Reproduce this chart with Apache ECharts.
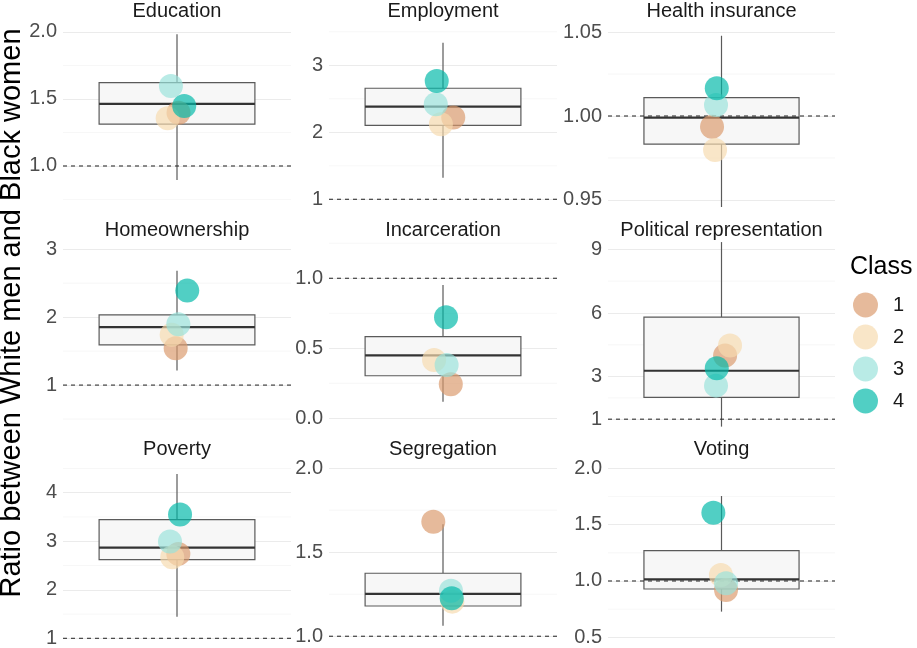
<!DOCTYPE html>
<html lang="en" style="height: 100%">

<head>
  <meta charset="UTF-8">
  <title>Ratio between White men and Black women</title>
  <script src="https://cdn.jsdelivr.net/npm/echarts@6.0.0/dist/echarts.min.js"></script>
</head>

<body style="height: 100%; margin: 0">
  <div id="container" style="width: 917px; height: 648px"></div>

  <script>
    var facets = ['Education', 'Employment', 'Health insurance', 'Homeownership', 'Incarceration',
      'Political representation', 'Poverty', 'Segregation', 'Voting'];
    var classNames = ['1', '2', '3', '4'];

    // per facet: [lower whisker, Q1, median, Q3, upper whisker]
    var boxStats = [
      [0.896, 1.313, 1.463, 1.622, 1.983],
      [1.322, 2.104, 2.382, 2.657, 3.337],
      [0.9458, 0.9833, 0.999, 1.0109, 1.0478],
      [1.215, 1.593, 1.853, 2.034, 2.685],
      [0.119, 0.304, 0.450, 0.583, 0.952],
      [0.65, 2.03, 3.28, 5.81, 9.34],
      [1.445, 2.623, 2.870, 3.447, 4.385],
      [1.063, 1.180, 1.252, 1.375, 1.667],
      [0.728, 0.929, 1.015, 1.269, 1.754]
    ];

    // class ratios, one value per facet
    var class1 = [1.398, 2.219, 0.9936, 1.544, 0.243, 4.00, 2.74, 1.682, 0.92];
    var class2 = [1.356, 2.119, 0.9798, 1.740, 0.416, 4.47, 2.67, 1.206, 1.053];
    var class3 = [1.597, 2.418, 1.0065, 1.897, 0.381, 2.58, 2.994, 1.271, 0.98];
    var class4 = [1.448, 2.766, 1.0165, 2.391, 0.721, 3.40, 3.551, 1.226, 1.606];
    var classValues = [class1, class2, class3, class4];

    // horizontal jitter of each point (x scale 0.4 - 1.6, box centred at 1)
    var jitter1 = [1.008, 1.054, 0.950, 0.993, 1.041, 1.019, 1.007, 0.949, 1.024];
    var jitter2 = [0.951, 0.989, 0.966, 0.972, 0.953, 1.045, 0.975, 1.049, 0.997];
    var jitter3 = [0.968, 0.962, 0.971, 1.007, 1.019, 0.971, 0.963, 1.042, 1.024];
    var jitter4 = [1.038, 0.967, 0.975, 1.054, 1.016, 0.975, 1.016, 1.046, 0.957];
    var jitters = [jitter1, jitter2, jitter3, jitter4];

    var yTicks = [[1, 1.5, 2], [1, 2, 3], [0.95, 1, 1.05], [1, 2, 3], [0, 0.5, 1],
      [1, 3, 6, 9], [1, 2, 3, 4], [1, 1.5, 2], [0.5, 1, 1.5, 2]];
    var yTickLabels = [['1.0', '1.5', '2.0'], ['1', '2', '3'], ['0.95', '1.00', '1.05'], ['1', '2', '3'],
      ['0.0', '0.5', '1.0'], ['1', '3', '6', '9'], ['1', '2', '3', '4'], ['1.0', '1.5', '2.0'],
      ['0.5', '1.0', '1.5', '2.0']];
    var yMinor = [[0.75, 1.25, 1.75], [1.5, 2.5, 3.5], [0.975, 1.025], [0.5, 1.5, 2.5], [0.25, 0.75, 1.25],
      [2, 4.5, 7.5], [1.5, 2.5, 3.5, 4.5], [1.25, 1.75], [0.75, 1.25, 1.75]];
    var yLimits = [[0.679, 2.067], [0.855, 3.631], [0.9446, 1.0554], [0.368, 3.107], [-0.069, 1.259],
      [0.585, 9.344], [0.821, 4.654], [0.936, 2.043], [0.414, 2.065]];
    var refValue = 1; // parity line

    // layout
    var colLeft = [63, 329, 608], colWidth = [228, 228, 227];
    var rowTop = [23, 242, 461], panelHeight = 186;
    var BOX_HALF = 0.41;
    var FONT = '"Liberation Sans", Arial, sans-serif';
    var classColors = ['rgba(219,154,108,0.85)', 'rgba(246,218,175,0.85)',
      'rgba(153,226,218,0.85)', 'rgba(0,185,168,0.85)'];

    var chart = echarts.init(document.getElementById('container'));

    function renderBox(params, api) {
      var x = api.value(0);
      var lo = api.coord([x, api.value(1)]);
      var q1 = api.coord([x, api.value(2)]);
      var med = api.coord([x, api.value(3)]);
      var q3 = api.coord([x, api.value(4)]);
      var hi = api.coord([x, api.value(5)]);
      var left = api.coord([x - BOX_HALF, api.value(3)])[0];
      var right = api.coord([x + BOX_HALF, api.value(3)])[0];
      var stroke = { stroke: '#5a5a5a', lineWidth: 1.2 };
      return {
        type: 'group',
        children: [
          { type: 'line', shape: { x1: lo[0], y1: lo[1], x2: q1[0], y2: q1[1] }, style: stroke },
          { type: 'line', shape: { x1: q3[0], y1: q3[1], x2: hi[0], y2: hi[1] }, style: stroke },
          {
            type: 'rect', shape: { x: left, y: q3[1], width: right - left, height: q1[1] - q3[1] },
            style: { fill: '#f7f7f7', stroke: '#5a5a5a', lineWidth: 1.2 }
          },
          {
            type: 'line', shape: { x1: left, y1: med[1], x2: right, y2: med[1] },
            style: { stroke: '#333333', lineWidth: 2.2 }
          }
        ]
      };
    }

    function hline(style) {
      return function (params, api) {
        var cs = params.coordSys;
        var y = api.coord([1, api.value(1)])[1];
        return {
          type: 'line',
          shape: { x1: cs.x, y1: y, x2: cs.x + cs.width, y2: y },
          style: style
        };
      };
    }

    var grids = [], xAxes = [], yAxes = [], series = [], graphics = [];

    facets.forEach(function (name, i) {
      var row = Math.floor(i / 3), col = i % 3;
      grids.push({
        left: colLeft[col], top: rowTop[row], width: colWidth[col], height: panelHeight,
        outerBoundsMode: 'none'
      });
      xAxes.push({
        gridIndex: i, type: 'value', min: 0.4, max: 1.6, show: false,
        splitLine: { show: false }
      });
      var ticks = yTicks[i], labels = yTickLabels[i];
      yAxes.push({
        gridIndex: i, type: 'value', min: yLimits[i][0], max: yLimits[i][1],
        axisLine: { show: false },
        axisTick: { show: false, customValues: ticks },
        axisLabel: {
          customValues: ticks,
          color: '#4d4d4d', fontSize: 20, fontFamily: FONT, margin: 6,
          formatter: function (v) {
            for (var k = 0; k < ticks.length; k++) {
              if (Math.abs(ticks[k] - v) < 1e-9) return labels[k];
            }
            return '';
          }
        },
        splitLine: { show: true, lineStyle: { color: '#ebebeb', width: 1.1 } }
      });

      series.push({
        type: 'custom', xAxisIndex: i, yAxisIndex: i, silent: true,
        renderItem: hline({ stroke: '#f3f3f3', lineWidth: 0.7 }),
        encode: { x: 0, y: 1 },
        data: yMinor[i].map(function (v) { return [1, v]; })
      });
      series.push({
        type: 'custom', xAxisIndex: i, yAxisIndex: i, silent: true, clip: true,
        renderItem: renderBox,
        encode: { x: 0, y: [1, 2, 3, 4, 5] },
        data: [[1].concat(boxStats[i])]
      });
      series.push({
        type: 'custom', xAxisIndex: i, yAxisIndex: i, silent: true,
        renderItem: hline({ stroke: '#333333', lineWidth: 1.1, lineDash: [4, 4] }),
        encode: { x: 0, y: 1 },
        data: [[1, refValue]]
      });
      classNames.forEach(function (cls, c) {
        series.push({
          name: cls, type: 'scatter', xAxisIndex: i, yAxisIndex: i,
          symbolSize: 24,
          itemStyle: { color: classColors[c] },
          emphasis: { disabled: true },
          data: [[jitters[c][i], classValues[c][i]]]
        });
      });

      graphics.push({
        type: 'text',
        x: colLeft[col] + colWidth[col] / 2, y: rowTop[row] - 11.5,
        style: {
          text: name, fill: '#1a1a1a', font: '20px ' + FONT,
          textAlign: 'center', textVerticalAlign: 'middle'
        }
      });
    });

    graphics.push({
      type: 'text', x: 12, y: 313, rotation: Math.PI / 2,
      style: {
        text: 'Ratio between White men and Black women', fill: '#000000', font: '29px ' + FONT,
        textAlign: 'center', textVerticalAlign: 'middle'
      }
    });
    graphics.push({
      type: 'text', x: 850, y: 267,
      style: {
        text: 'Class', fill: '#000000', font: '25px ' + FONT,
        textAlign: 'left', textVerticalAlign: 'middle'
      }
    });

    var option = {
      animation: false,
      backgroundColor: '#ffffff',
      grid: grids,
      xAxis: xAxes,
      yAxis: yAxes,
      legend: {
        data: classNames,
        orient: 'vertical',
        left: 853, top: 292.5, padding: 0,
        itemWidth: 25, itemHeight: 25, itemGap: 7,
        icon: 'circle',
        selectedMode: false,
        textStyle: { fontSize: 20, color: '#1a1a1a', fontFamily: FONT, padding: [0, 0, 0, 10] }
      },
      graphic: graphics,
      series: series
    };
    chart.setOption(option);
  </script>
</body>

</html>
